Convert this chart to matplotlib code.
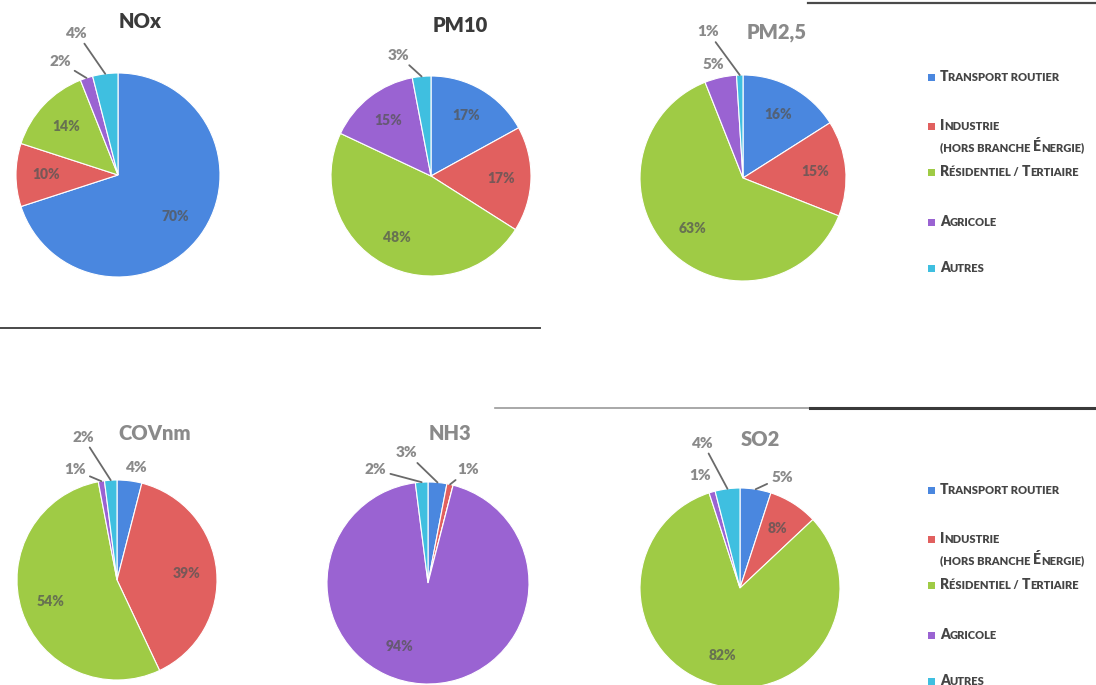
import numpy as np
import matplotlib as mpl
mpl.use('Agg')
import matplotlib.pyplot as plt
from matplotlib.lines import Line2D

plt.rcParams['font.family'] = ['Lato', 'DejaVu Sans']

W, H = 1096, 685

secteurs = ['Transport routier', 'Industrie', '(hors branche Énergie)',
            'Résidentiel / Tertiaire', 'Agricole', 'Autres']
colors = ['#4a87df', '#e1605f', '#9fcb45', '#9a63d2', '#3fbfe0']

polluants = ['NOx', 'PM10', 'PM2,5', 'COVnm', 'NH3', 'SO2']
# transport, industrie, residentiel, agricole, autres (%)
nox = [70, 10, 14, 2, 4]
pm10 = [17, 17, 48, 15, 3]
pm25 = [16, 15, 63, 5, 1]
covnm = [4, 39, 54, 1, 2]
nh3 = [3, 1, 0, 94, 2]
so2 = [5, 8, 82, 1, 4]
values = [nox, pm10, pm25, covnm, nh3, so2]

# pie centre / radius in pixels, title position and colour
pies = {
    'NOx':   dict(c=(118, 175), r=102, title=(140, 22), tc='#3a3a3a'),
    'PM10':  dict(c=(431, 176), r=100, title=(460, 25), tc='#3a3a3a'),
    'PM2,5': dict(c=(743, 178), r=103, title=(777, 32), tc='#8a8a8a'),
    'COVnm': dict(c=(117, 580), r=100, title=(155, 433), tc='#8a8a8a'),
    'NH3':   dict(c=(428, 583), r=101, title=(450, 433), tc='#8a8a8a'),
    'SO2':   dict(c=(740, 588), r=100, title=(760, 440), tc='#8a8a8a'),
}

# labels drawn outside the pie: (x, y in pie radius units, leader line)
outside = {
    ('NOx', 4): (-0.40, 1.39, True), ('NOx', 3): (-0.57, 1.11, True),
    ('PM10', 4): (-0.33, 1.21, True),
    ('PM2,5', 4): (-0.34, 1.42, True), ('PM2,5', 3): (-0.29, 1.10, False),
    ('COVnm', 4): (-0.34, 1.43, True), ('COVnm', 3): (-0.42, 1.10, True),
    ('COVnm', 0): (0.20, 1.12, False),
    ('NH3', 4): (-0.52, 1.12, True), ('NH3', 0): (-0.21, 1.29, True),
    ('NH3', 1): (0.40, 1.12, True),
    ('SO2', 4): (-0.37, 1.45, True), ('SO2', 3): (-0.40, 1.13, False),
    ('SO2', 0): (0.42, 1.11, True),
}
inside_override = {('NH3', 3): (-0.28, -0.63)}


def px(x, y):
    return x / W, 1 - y / H


fig = plt.figure(figsize=(W / 100, H / 100), dpi=100)
fig.patch.set_facecolor('white')

for name, vals in zip(polluants, values):
    p = pies[name]
    cx, cy = p['c']
    r = p['r']
    ax = fig.add_axes([(cx - r) / W, 1 - (cy + r) / H, 2 * r / W, 2 * r / H])
    ax.pie(vals, colors=colors, startangle=90, counterclock=False,
           wedgeprops=dict(edgecolor='white', linewidth=0.8))
    ax.set_xlim(-1, 1)
    ax.set_ylim(-1, 1)
    ax.set_aspect('equal')
    ax.axis('off')

    total = float(sum(vals))
    cum = 0.
    for i, v in enumerate(vals):
        start = 90 - 360 * cum / total
        mid = np.radians(start - 180 * v / total)
        cum += v
        if v == 0:
            continue
        label = '%d%%' % v
        if (name, i) in outside:
            lx, ly, leader = outside[(name, i)]
            arrow = None
            if leader:
                arrow = dict(arrowstyle='-', color='#6a6a6a', lw=1.3,
                             shrinkA=1, shrinkB=0)
            ax.annotate(label, xy=(np.cos(mid), np.sin(mid)), xytext=(lx, ly),
                        ha='center', va='center', fontsize=11, fontweight='heavy',
                        color='#8a8a8a', arrowprops=arrow, annotation_clip=False)
        else:
            lx, ly = inside_override.get((name, i), (0.7 * np.cos(mid), 0.7 * np.sin(mid)))
            ax.text(lx, ly, label, ha='center', va='center', fontsize=10,
                    fontweight='heavy', color='#555555', alpha=0.75)

    tx, ty = p['title']
    fig.text(*px(tx, ty), name, ha='center', va='center', fontsize=14.5,
             fontweight='heavy', color=p['tc'])

renderer = fig.canvas.get_renderer()


def small_caps(x, y, text, big=10, small=8):
    # capitals keep the big size, lower-case letters become small capitals
    runs = []
    for ch in text:
        size = big if ch.isupper() else small
        if runs and runs[-1][1] == size:
            runs[-1][0] += ch.upper()
        else:
            runs.append([ch.upper(), size])
    xp = x
    for s, sz in runs:
        t = fig.text(*px(xp, y), s, fontsize=sz, fontweight='heavy',
                     color='#454545', ha='left', va='baseline')
        xp += t.get_window_extent(renderer).width


def legend(y0):
    rows = [(0, 0, y0), (1, 1, y0 + 49), (None, 2, y0 + 70),
            (2, 3, y0 + 95), (3, 4, y0 + 145), (4, 5, y0 + 191)]
    for ci, ti, y in rows:
        if ci is not None:
            fig.patches.append(plt.Rectangle(px(928, y + 4), 7 / W, 7 / H,
                                             transform=fig.transFigure,
                                             facecolor=colors[ci], edgecolor='none'))
        small_caps(940, y + 4, secteurs[ti])


legend(77)
legend(490)

# separator rules
for x0, x1, y, c, lw in [(0, 540, 328, '#4a4a4a', 1.4),
                         (808, 1096, 3, '#4a4a4a', 1.6),
                         (495, 810, 408, '#9a9a9a', 1.2),
                         (810, 1096, 408, '#3a3a3a', 2.2)]:
    fig.add_artist(Line2D([x0 / W, x1 / W], [1 - y / H, 1 - y / H],
                          transform=fig.transFigure, color=c, lw=lw))

fig.savefig('out.png', dpi=100)
